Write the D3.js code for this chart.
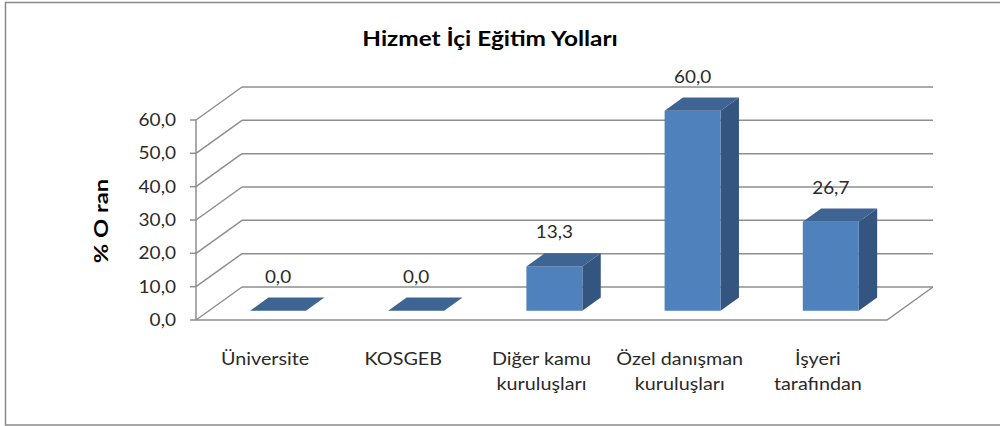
<!DOCTYPE html>
<meta charset='utf-8'>
<style>
body { margin: 0; background: #fff; }
text { font-family: Lato, 'Open Sans', sans-serif; fill: #000; }
text.reg { font-weight: 400; fill: #2a2a2a; }
.grid { stroke: #8e8e8e; stroke-width: 1.5px; fill: none; }
</style>
<svg id='chart' width='1000' height='426'></svg>
<script src="https://d3js.org/d3.v7.min.js"></script>
<script>
// chart values
const title = 'Hizmet İçi Eğitim Yolları';
const yTitle = '% O ran';
const categories = ['Üniversite', 'KOSGEB', 'Diğer kamu kuruluşları', 'Özel danışman kuruluşları', 'İşyeri tarafından'];
const categoryLines = [['Üniversite'], ['KOSGEB'], ['Diğer kamu', 'kuruluşları'], ['Özel danışman', 'kuruluşları'], ['İşyeri', 'tarafından']];
const values = [0.0, 0.0, 13.3, 60.0, 26.7];
const yTicks = [0, 10, 20, 30, 40, 50, 60];

const svg = d3.select('#chart');

// 3d box: front plane + wall depth offset
const depth = { dx: 46, dy: -33 };
const barFront = 0.28, barBack = 0.68;

const x = d3.scaleBand()
  .domain(categories)
  .range([196, 887])
  .paddingInner(0.595)
  .paddingOuter(0.2975);

const y = d3.scaleLinear()
  .domain([0, 60])
  .range([320, 120]);

const fmt = v => d3.format('.1f')(v).replace('.', ',');

// outer frame
svg.append('rect')
  .attr('x', 5.5).attr('y', 2.5)
  .attr('width', 1010).attr('height', 422.5)
  .attr('fill', '#fff')
  .attr('stroke', '#8a8a8a')
  .attr('stroke-width', 1.5);

const gGrid = svg.append('g');

// side wall diagonals
gGrid.selectAll('line.diag')
  .data(yTicks)
  .join('line')
  .attr('class', 'grid diag')
  .attr('x1', x.range()[0]).attr('y1', d => y(d))
  .attr('x2', x.range()[0] + depth.dx).attr('y2', d => y(d) + depth.dy);

// back wall gridlines
gGrid.selectAll('line.back')
  .data(yTicks)
  .join('line')
  .attr('class', 'grid back')
  .attr('x1', x.range()[0] + depth.dx).attr('y1', d => y(d) + depth.dy)
  .attr('x2', x.range()[1] + depth.dx).attr('y2', d => y(d) + depth.dy);

// vertical axis + ticks
gGrid.append('line')
  .attr('class', 'grid')
  .attr('x1', x.range()[0]).attr('x2', x.range()[0])
  .attr('y1', y(0)).attr('y2', y(60));

gGrid.selectAll('line.tick')
  .data(yTicks)
  .join('line')
  .attr('class', 'grid tick')
  .attr('x1', x.range()[0] - 6).attr('x2', x.range()[0])
  .attr('y1', d => y(d)).attr('y2', d => y(d));

// floor front edge and right side
gGrid.append('path')
  .attr('class', 'grid')
  .attr('d', d3.line()([
    [x.range()[0], y(0)],
    [x.range()[1], y(0)],
    [x.range()[1] + depth.dx, y(0) + depth.dy]
  ]));

// bars
const bw = x.bandwidth();
const o1 = [barFront * depth.dx, barFront * depth.dy];
const dd = [(barBack - barFront) * depth.dx, (barBack - barFront) * depth.dy];

const bars = categories.map((c, i) => {
  const xl = x(c) + o1[0];
  const xr = xl + bw;
  const yb = y(0) + o1[1];
  const yt = y(values[i]) + o1[1];
  return { c, v: values[i], xl, xr, yb, yt };
});

const gBars = svg.append('g');

gBars.selectAll('polygon.side')
  .data(bars.filter(b => b.v > 0))
  .join('polygon')
  .attr('fill', '#34557f')
  .attr('points', b => [
    [b.xr, b.yt], [b.xr + dd[0], b.yt + dd[1]],
    [b.xr + dd[0], b.yb + dd[1]], [b.xr, b.yb]
  ].join(' '));

gBars.selectAll('rect.front')
  .data(bars.filter(b => b.v > 0))
  .join('rect')
  .attr('fill', '#4f81bd')
  .attr('x', b => b.xl).attr('y', b => b.yt)
  .attr('width', bw).attr('height', b => b.yb - b.yt);

gBars.selectAll('polygon.top')
  .data(bars)
  .join('polygon')
  .attr('fill', '#3e6494')
  .attr('points', b => [
    [b.xl, b.yt], [b.xl + dd[0], b.yt + dd[1]],
    [b.xr + dd[0], b.yt + dd[1]], [b.xr, b.yt]
  ].join(' '));

// data labels
svg.append('g').selectAll('text')
  .data(bars)
  .join('text')
  .attr('class', 'reg')
  .attr('text-anchor', 'middle')
  .attr('font-size', 18)
  .attr('transform', b => `translate(${b.xl + bw / 2},${b.yt + dd[1] - 15}) scale(1.05,1)`)
  .text(b => fmt(b.v));

// y tick labels
svg.append('g').selectAll('text')
  .data(yTicks)
  .join('text')
  .attr('class', 'reg')
  .attr('text-anchor', 'end')
  .attr('font-size', 17)
  .attr('transform', d => `translate(176,${y(d) + 6}) scale(1.12,1)`)
  .text(fmt);

// category labels
const gCat = svg.append('g').selectAll('text')
  .data(categories)
  .join('text')
  .attr('class', 'reg')
  .attr('text-anchor', 'middle')
  .attr('font-size', 17.5)
  .attr('transform', c => `translate(${x(c) + bw / 2},365) scale(1.13,1)`);

gCat.selectAll('tspan')
  .data((c, i) => categoryLines[i])
  .join('tspan')
  .attr('x', 0)
  .attr('y', (d, j) => j * 25)
  .text(d => d);

// title
svg.append('text')
  .attr('text-anchor', 'middle')
  .attr('font-size', 21)
  .attr('font-weight', 'bold')
  .attr('transform', 'translate(490,46) scale(1.16,1)')
  .text(title);

// y axis title
svg.append('text')
  .attr('text-anchor', 'middle')
  .attr('font-size', 19)
  .attr('font-weight', 'bold')
  .attr('transform', 'translate(108,221) rotate(-90) scale(1.25,1)')
  .text(yTitle);
</script>
